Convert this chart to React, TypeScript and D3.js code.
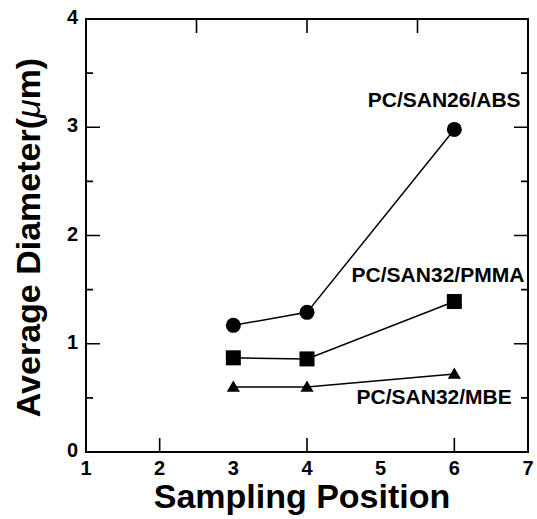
import React from "react";
import * as d3 from "d3";

// sampling positions and measured diameters (um)
const positions = [3, 4, 6];
const absValues = [1.17, 1.29, 2.98];
const pmmaValues = [0.87, 0.86, 1.39];
const mbeValues = [0.6, 0.6, 0.72];

const seriesNames = ["PC/SAN26/ABS", "PC/SAN32/PMMA", "PC/SAN32/MBE"];
// label anchor (end of text) in data units
const labelX = [6.9, 6.95, 6.78];
const labelY = [3.19, 1.575, 0.44];

const xTickLabels = [1, 2, 3, 4, 5, 6, 7];
const yTickLabels = [0, 1, 2, 3, 4];
const bottomTicks = [2, 4, 6];
const topTicks = [2.5, 4, 5.5];
const yTicks = [0.5, 1, 1.5, 2, 2.5, 3, 3.5];

const W = 537;
const H = 519;
const font = "'Liberation Sans', Arial, sans-serif";

const App = () => {
  const x = d3.scaleLinear().domain([1, 7]).range([86, 528]);
  const y = d3.scaleLinear().domain([0, 4]).range([452, 19]);

  const line = d3
    .line<[number, number]>()
    .x((d) => x(d[0]))
    .y((d) => y(d[1]));

  const series = [absValues, pmmaValues, mbeValues].map((vals) =>
    positions.map((p, i) => [p, vals[i]] as [number, number])
  );

  const tri = d3.symbol().type(d3.symbolTriangle).size(75)();

  const [left, right] = x.range();
  const [bottom, top] = y.range();

  // all inward ticks in one path
  const ticks = d3.path();
  yTicks.forEach((v) => {
    const len = Number.isInteger(v) ? 14 : 7;
    ticks.moveTo(left, y(v));
    ticks.lineTo(left + len, y(v));
    ticks.moveTo(right, y(v));
    ticks.lineTo(right - len, y(v));
  });
  bottomTicks.forEach((v) => {
    ticks.moveTo(x(v), bottom);
    ticks.lineTo(x(v), bottom - 14);
  });
  topTicks.forEach((v) => {
    ticks.moveTo(x(v), top);
    ticks.lineTo(x(v), top + 14);
  });

  return (
    <div style={{ position: "absolute", left: 0, top: 0 }}>
      <svg width={W} height={H} style={{ display: "block", background: "#fff" }}>
        {/* frame */}
        <rect x={left} y={top} width={right - left} height={bottom - top} fill="none" stroke="#000" strokeWidth={2} />
        <path d={ticks.toString()} fill="none" stroke="#000" strokeWidth={1.6} />

        {/* tick labels */}
        {yTickLabels.map((v) => (
          <text key={"yl" + v} x={left - 8} y={y(v) + 5} textAnchor="end" fontFamily={font} fontWeight="bold" fontSize={20}>
            {v}
          </text>
        ))}
        {xTickLabels.map((v) => (
          <text key={"xl" + v} x={x(v)} y={bottom + 23} textAnchor="middle" fontFamily={font} fontWeight="bold" fontSize={20}>
            {v}
          </text>
        ))}

        {/* axis titles */}
        <text x={(left + right) / 2 - 5} y={508} textAnchor="middle" fontFamily={font} fontWeight="bold" fontSize={34}>
          Sampling Position
        </text>
        <text
          transform={`translate(40, ${(bottom + top) / 2 + 2}) rotate(-90)`}
          textAnchor="middle"
          fontFamily={font}
          fontWeight="bold"
          fontSize={34}
        >
          Average Diameter(<tspan fontStyle="italic" fontWeight="normal">μ</tspan>m)
        </text>

        {/* series lines */}
        {series.map((s, i) => (
          <path key={"l" + i} d={line(s) || ""} fill="none" stroke="#000" strokeWidth={1.5} />
        ))}

        {/* markers */}
        {series[0].map((d, i) => (
          <circle key={"c" + i} cx={x(d[0])} cy={y(d[1])} r={7.5} fill="#000" />
        ))}
        {series[1].map((d, i) => (
          <rect key={"s" + i} x={x(d[0]) - 7.5} y={y(d[1]) - 7.5} width={15} height={15} fill="#000" />
        ))}
        {series[2].map((d, i) => (
          <path key={"t" + i} d={tri || ""} transform={`translate(${x(d[0])}, ${y(d[1]) + 1})`} fill="#000" />
        ))}

        {/* series labels */}
        {seriesNames.map((n, i) => (
          <text key={"n" + i} x={x(labelX[i])} y={y(labelY[i])} textAnchor="end" fontFamily={font} fontWeight="bold" fontSize={21}>
            {n}
          </text>
        ))}
      </svg>
    </div>
  );
};

export default App;
